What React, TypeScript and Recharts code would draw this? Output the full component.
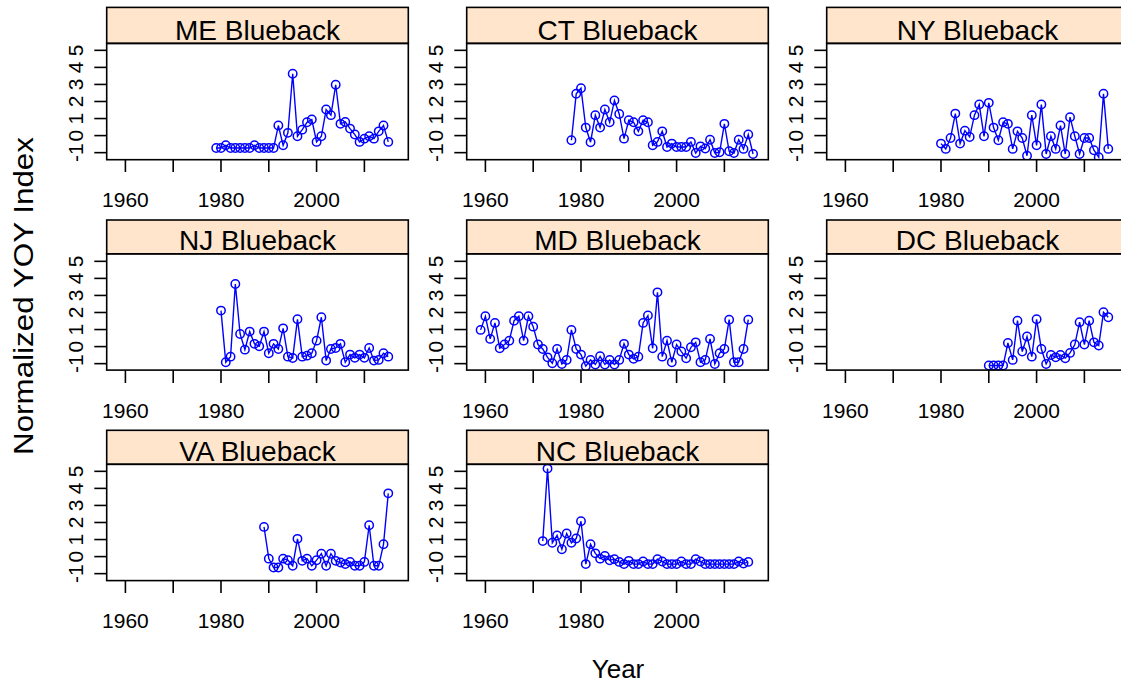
import React from 'react';
import { LineChart, Line, XAxis, YAxis } from 'recharts';

const FONT = "'Liberation Sans', Arial, Helvetica, sans-serif";

// ---- data (normalized YOY index by year) ----
const ME_START = 1979;
const ME = [-0.73, -0.73, -0.57, -0.73, -0.73, -0.73, -0.73, -0.73, -0.57, -0.73, -0.73, -0.73, -0.73,
  0.59, -0.57, 0.16, 3.63, -0.04, 0.35, 0.78, 0.94, -0.37, -0.04, 1.53, 1.2, 2.98, 0.69, 0.8, 0.41, 0.06,
  -0.37, -0.18, -0.04, -0.18, 0.25, 0.59, -0.37];

const CT_START = 1978;
const CT = [-0.27, 2.45, 2.78, 0.47, -0.39, 1.2, 0.47, 1.53, 0.78, 2.06, 1.27, -0.18, 0.9, 0.78, 0.25, 0.9,
  0.78, -0.57, -0.37, 0.25, -0.67, -0.47, -0.67, -0.67, -0.67, -0.37, -1.02, -0.63, -0.76, -0.24, -1.02,
  -0.98, 0.69, -0.92, -1.02, -0.24, -0.78, 0.06, -1.08];

const NY_START = 1980;
const NY = [-0.47, -0.78, -0.14, 1.29, -0.47, 0.29, -0.08, 1.2, 1.82, -0.04, 1.92, 0.47, -0.27, 0.78, 0.69,
  -0.78, 0.25, -0.14, -1.18, 1.2, -0.57, 1.82, -1.08, -0.04, -0.78, 0.59, -1.08, 1.08, -0.04, -1.08, -0.14,
  -0.14, -0.86, -1.27, 2.45, -0.78];

const NJ_START = 1980;
const NJ = [2.11, -0.92, -0.59, 3.67, 0.74, -0.18, 0.88, 0.16, 0.02, 0.88, -0.39, 0.16, -0.14, 1.07, -0.59,
  -0.67, 1.6, -0.59, -0.53, -0.39, 0.35, 1.72, -0.82, -0.14, -0.08, 0.16, -0.92, -0.47, -0.66, -0.47, -0.66,
  -0.08, -0.82, -0.78, -0.39, -0.59];

const MD_START = 1959;
const MD = [0.98, 1.78, 0.45, 1.39, -0.1, 0.12, 0.35, 1.52, 1.78, 0.35, 1.78, 1.17, 0.12, -0.14, -0.63,
  -0.98, -0.14, -1.02, -0.78, 0.98, -0.14, -0.47, -1.15, -0.78, -1.05, -0.57, -1.05, -0.78, -1.05, -0.78,
  0.16, -0.47, -0.72, -0.59, 1.39, 1.82, -0.1, 3.18, -0.59, 0.35, -0.92, 0.12, -0.29, -0.68, -0.04, 0.25,
  -0.92, -0.78, 0.45, -1.02, -0.39, -0.14, 1.58, -0.92, -0.92, -0.14, 1.58];

const DC_START = 1990;
const DC = [-1.11, -1.11, -1.11, -1.11, 0.21, -0.78, 1.52, -0.29, 0.59, -0.59, 1.6, -0.14, -1.02, -0.49,
  -0.63, -0.49, -0.68, -0.37, 0.12, 1.43, 0.12, 1.52, 0.25, 0.06, 2.01, 1.72];

const VA_START = 1989;
const VA = [1.74, -0.12, -0.64, -0.64, -0.12, -0.21, -0.54, 1.04, -0.25, -0.12, -0.54, -0.21, 0.17, -0.54,
  0.17, -0.25, -0.35, -0.44, -0.31, -0.54, -0.54, -0.31, 1.84, -0.54, -0.54, 0.72, 3.71];

const NC_START = 1972;
const NC = [0.91, 5.16, 0.81, 1.24, 0.43, 1.35, 0.81, 1.06, 2.07, -0.44, 0.72, 0.19, -0.12, 0.04, -0.21,
  -0.15, -0.31, -0.44, -0.25, -0.44, -0.44, -0.29, -0.44, -0.44, -0.15, -0.29, -0.44, -0.44, -0.44, -0.29,
  -0.44, -0.44, -0.15, -0.29, -0.44, -0.44, -0.44, -0.44, -0.44, -0.44, -0.44, -0.29, -0.41, -0.31];

const X_TICKS = [1960, 1970, 1980, 1990, 2000, 2010];
const X_LABELS = [1960, 1980, 2000];
const Y_TICKS = [-1, 0, 1, 2, 3, 4, 5];
const X_DOMAIN: [number, number] = [1956.15, 2019.25];
const Y_DOMAIN: [number, number] = [-1.39, 5.43];

const PANELS = [
  { title: 'ME Blueback', start: ME_START, values: ME, col: 0, row: 0 },
  { title: 'CT Blueback', start: CT_START, values: CT, col: 1, row: 0 },
  { title: 'NY Blueback', start: NY_START, values: NY, col: 2, row: 0 },
  { title: 'NJ Blueback', start: NJ_START, values: NJ, col: 0, row: 1 },
  { title: 'MD Blueback', start: MD_START, values: MD, col: 1, row: 1 },
  { title: 'DC Blueback', start: DC_START, values: DC, col: 2, row: 1 },
  { title: 'VA Blueback', start: VA_START, values: VA, col: 0, row: 2 },
  { title: 'NC Blueback', start: NC_START, values: NC, col: 1, row: 2 },
];

// ---- layout ----
const COL_LEFT = [106.7, 466.7, 826.7];
const ROW_TOP = [43.4, 253.8, 464.3];
const STRIP_H = [36, 33.8, 34];
const PANEL_W = 301.6;
const PANEL_H = 116.3;
const YW = 100;
const XH = 62;
const MT = 3;
const MR = 3;
const TICK_LEN = 12.7;
const BORDER = 1.6;

const XTick = (props: any) => {
  const { x, y, payload } = props;
  if (!X_LABELS.includes(payload.value)) return <g />;
  return (
    <text x={x} y={y} textAnchor="middle" fontSize={21} fontFamily={FONT} fill="#000">
      {payload.value}
    </text>
  );
};

const YTick = (props: any) => {
  const { x, y, payload } = props;
  return (
    <text x={x} y={y} transform={`rotate(-90 ${x} ${y})`} textAnchor="middle" fontSize={21} fontFamily={FONT} fill="#000">
      {String(payload.value)}
    </text>
  );
};

function Panel({ p }: { p: typeof PANELS[number] }) {
  const data = p.values.map((v, i) => ({ year: p.start + i, value: v }));
  const left = COL_LEFT[p.col] - YW;
  const top = ROW_TOP[p.row] - MT;
  return (
    <div style={{ position: 'absolute', left, top }}>
      <LineChart
        width={YW + PANEL_W + MR}
        height={MT + PANEL_H + XH}
        data={data}
        margin={{ top: MT, right: MR, bottom: 0, left: 0 }}
      >
        <XAxis
          dataKey="year"
          type="number"
          domain={X_DOMAIN}
          ticks={X_TICKS}
          interval={0}
          allowDataOverflow
          axisLine={false}
          tickLine={{ stroke: '#000', strokeWidth: BORDER }}
          tickSize={TICK_LEN}
          tickMargin={35.5}
          height={XH}
          tick={(tp: any) => <XTick {...tp} />}
        />
        <YAxis
          type="number"
          domain={Y_DOMAIN}
          ticks={Y_TICKS}
          interval={0}
          allowDataOverflow
          axisLine={false}
          tickLine={{ stroke: '#000', strokeWidth: BORDER }}
          tickSize={TICK_LEN}
          tickMargin={11.3}
          width={YW}
          tick={(tp: any) => <YTick {...tp} />}
        />
        <Line
          dataKey="value"
          type="linear"
          stroke="#0000ff"
          strokeWidth={1.4}
          dot={{ r: 4.2, stroke: '#0000ff', strokeWidth: 1.5, fill: 'none' }}
          activeDot={false}
          isAnimationActive={false}
        />
      </LineChart>
    </div>
  );
}

export default function App() {
  return (
    <div
      style={{
        position: 'absolute',
        left: 0,
        top: 0,
        width: 1121,
        height: 684,
        overflow: 'hidden',
        background: '#fff',
        fontFamily: FONT,
      }}
    >
      {PANELS.map((p) => (
        <Panel key={p.title} p={p} />
      ))}
      <svg
        width={1121}
        height={684}
        style={{ position: 'absolute', left: 0, top: 0, pointerEvents: 'none' }}
      >
        {PANELS.map((p) => {
          const x = COL_LEFT[p.col];
          const y = ROW_TOP[p.row];
          const sh = STRIP_H[p.row];
          return (
            <g key={p.title}>
              <rect x={x} y={y - sh} width={PANEL_W} height={sh} fill="#FFE5CC" stroke="#000" strokeWidth={BORDER} />
              <text x={x + PANEL_W / 2} y={y - 3.8} textAnchor="middle" fontSize={28} fontFamily={FONT} fill="#000">
                {p.title}
              </text>
              <rect x={x} y={y} width={PANEL_W} height={PANEL_H} fill="none" stroke="#000" strokeWidth={BORDER} />
            </g>
          );
        })}
        <text
          x={33.3}
          y={296}
          transform="rotate(-90 33.3 296)"
          textAnchor="middle"
          fontSize={28}
          fontFamily={FONT}
          fill="#000"
          textLength={318}
          lengthAdjust="spacingAndGlyphs"
        >
          Normalized YOY Index
        </text>
        <text x={618} y={678.3} textAnchor="middle" fontSize={26} fontFamily={FONT} fill="#000">
          Year
        </text>
      </svg>
    </div>
  );
}
